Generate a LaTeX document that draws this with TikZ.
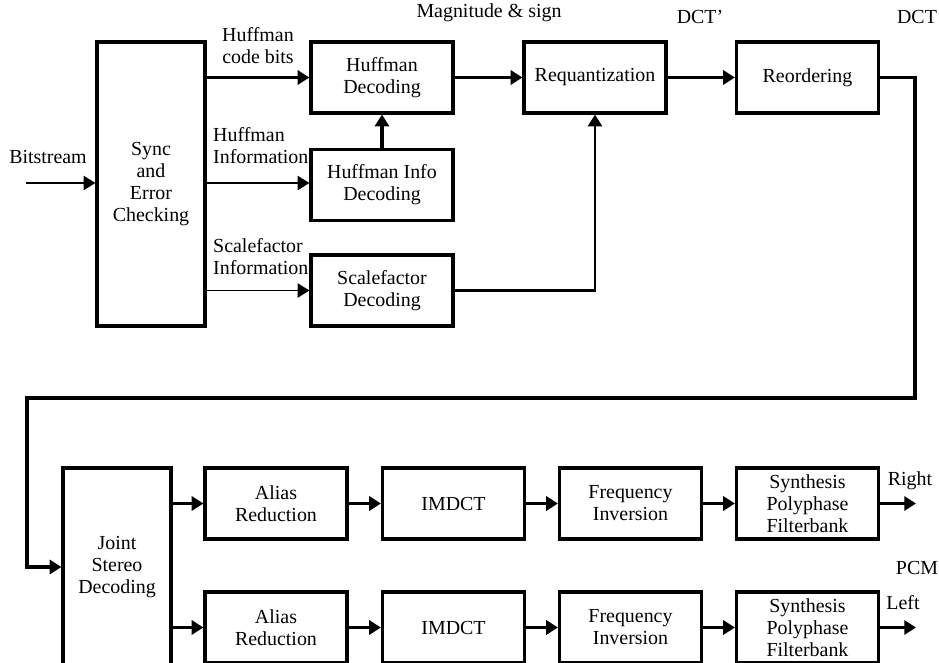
\documentclass[tikz,border=0pt]{standalone}
\usepackage{fontspec}
\setmainfont{Liberation Serif}
\usetikzlibrary{arrows.meta}
\begin{document}
\begin{tikzpicture}[x=0.03cm,y=-0.03cm,
  every node/.style={font=\fontsize{17}{18.8}\selectfont},
  block/.style={draw,line width=2.7pt,align=center,inner sep=0pt},
  wide/.style={block,minimum width=4.26cm,minimum height=2.13cm},
  tall/.style={block,minimum width=3.24cm},
  lbl/.style={inner sep=0pt,align=center},
  flow/.style={line width=2.7pt,-{Triangle[length=10pt,width=12pt]}},
  thinflow/.style={line width=1.6pt,-{Triangle[length=10pt,width=12pt]}},
  midflow/.style={line width=2.1pt,-{Triangle[length=10pt,width=12pt]}}]
\useasboundingbox (0,0) rectangle (939,663);

% upper chain
\node[tall,minimum height=8.52cm] (sync) at (151,184) {Sync\\and\\Error\\Checking};
\node[wide] (huff)  at (382,77.5)  {Huffman\\Decoding};
\node[wide] (info)  at (382,185)   {Huffman Info\\Decoding};
\node[wide] (scale) at (382,290.5) {Scalefactor\\Decoding};
\node[wide] (req)   at (595,77.5)  {Requantization};
\node[wide] (reo)   at (807.5,77.5) {Reordering};

% lower chain
\node[tall,minimum height=5.94cm] (joint) at (117,567) {Joint\\Stereo\\Decoding};
\node[wide] (aliasR) at (276,503.5)   {Alias\\Reduction};
\node[wide] (imdctR) at (453.5,503.5) {IMDCT};
\node[wide] (freqR)  at (630.5,503.5) {Frequency\\Inversion};
\node[wide] (synR)   at (807.5,503.5) {Synthesis\\Polyphase\\Filterbank};
\node[wide] (aliasL) at (276,627.5)   {Alias\\Reduction};
\node[wide] (imdctL) at (453.5,627.5) {IMDCT};
\node[wide] (freqL)  at (630.5,627.5) {Frequency\\Inversion};
\node[wide] (synL)   at (807.5,627.5) {Synthesis\\Polyphase\\Filterbank};

% labels
\node[lbl] (tBits)  at (48,157)  {Bitstream};
\node[lbl] (tCode)  at (258,46)  {Huffman\\code bits};
\node[lbl,align=left,anchor=west] (tHInfo) at (213,146) {Huffman\\Information};
\node[lbl,align=left,anchor=west] (tSInfo) at (213,257) {Scalefactor\\Information};
\node[lbl] (tMag)   at (489,13)  {Magnitude \& sign};
\node[lbl] (tDctp)  at (700,17)  {DCT'};
\node[lbl] (tDct)   at (917,17)  {DCT};
\node[lbl] (tRight) at (910,481) {Right};
\node[lbl] (tLeft)  at (903,603) {Left};
\node[lbl] (tPCM)   at (917,568) {PCM};

% free ends and bends
\coordinate (bsIn)  at (26,183);
\coordinate (bendA) at (915,398);
\coordinate (bendB) at (27,398);
\coordinate (outR)  at (916,503.5);
\coordinate (outL)  at (916,627.5);

% connectors, upper part
\draw[thinflow] (bsIn) -- (bsIn -| sync.west);
\draw[flow] (sync.east |- huff.west) -- (huff.west);
\draw[thinflow] (sync.east |- 0,183) -- (info.west |- 0,183);
\draw[thinflow] (sync.east |- scale.west) -- (scale.west);
\draw[flow] (info.north) -- (huff.south);
\draw[flow] (huff.east) -- (req.west);
\draw[midflow] (scale.east) -| (req.south);
\draw[flow] (req.east) -- (reo.west);
\draw[flow] (reo.east) -| (bendA) -- (bendB) |- (joint.west);

% connectors, lower part
\draw[flow] (joint.east |- aliasR.west) -- (aliasR.west);
\draw[flow] (joint.east |- aliasL.west) -- (aliasL.west);
\draw[flow] (aliasR.east) -- (imdctR.west);
\draw[flow] (imdctR.east) -- (freqR.west);
\draw[flow] (freqR.east) -- (synR.west);
\draw[flow] (synR.east) -- (outR);
\draw[flow] (aliasL.east) -- (imdctL.west);
\draw[flow] (imdctL.east) -- (freqL.west);
\draw[flow] (freqL.east) -- (synL.west);
\draw[flow] (synL.east) -- (outL);
\end{tikzpicture}
\end{document}
